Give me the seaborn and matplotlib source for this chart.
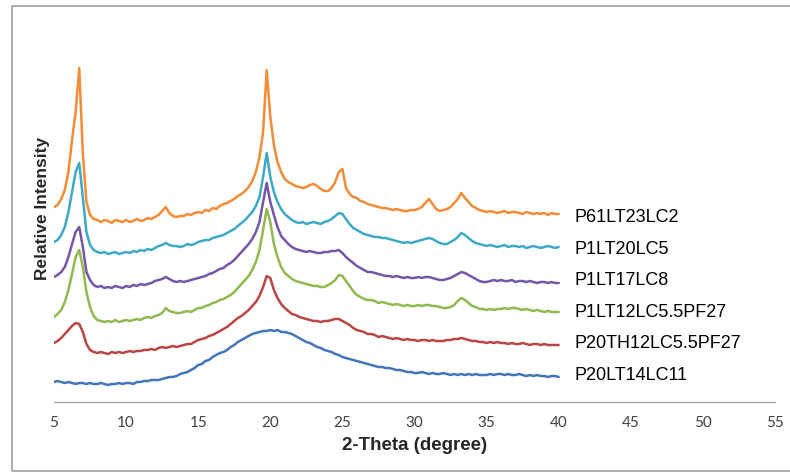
"""
XRD patterns of the six polymer samples, stacked, with names at the right.
"""
import matplotlib
matplotlib.use("Agg")

import numpy as np
import pandas as pd
import matplotlib.pyplot as plt
import seaborn as sns
from matplotlib.patches import Rectangle

# ── Data (intensity, arbitrary units) ─────────────────────────────────────────
# 2-theta sampled every 0.25 degree from 5 to 40
theta = np.linspace(5.0, 40.0, 141)

p61lt23lc2 = [
    195, 197, 203, 212, 230, 262, 290, 334, 248, 200, 187, 183, 182, 180, 182, 181, 179, 182, 181, 180,
    182, 180, 181, 183, 181, 182, 184, 183, 185, 187, 191, 195, 189, 186, 185, 186, 186, 188, 187, 189,
    190, 189, 192, 191, 194, 193, 196, 198, 199, 201, 203, 206, 208, 211, 215, 221, 230, 245, 270, 332,
    285, 257, 240, 230, 223, 220, 218, 216, 215, 214, 215, 217, 218, 216, 213, 211, 211, 214, 220, 230,
    233, 214, 208, 205, 204, 201, 200, 198, 197, 196, 195, 194, 194, 193, 192, 193, 192, 191, 191, 192,
    192, 193, 195, 199, 203, 198, 193, 191, 192, 193, 195, 199, 203, 209, 204, 200, 196, 194, 192, 191,
    190, 191, 190, 189, 190, 191, 189, 190, 190, 189, 188, 190, 189, 188, 189, 188, 189, 187, 189, 188,
    188,
]
p1lt20lc5 = [
    160, 162, 167, 175, 190, 210, 230, 239, 205, 170, 157, 152, 150, 149, 150, 148, 149, 150, 148, 149,
    150, 149, 151, 150, 152, 151, 153, 152, 154, 156, 157, 159, 157, 156, 156, 155, 156, 158, 157, 158,
    160, 161, 162, 162, 164, 165, 166, 167, 169, 171, 173, 176, 179, 182, 186, 190, 196, 205, 225, 249,
    225, 210, 200, 193, 188, 185, 182, 180, 179, 180, 178, 179, 180, 179, 178, 180, 181, 183, 186, 189,
    188, 183, 178, 174, 172, 170, 168, 167, 166, 165, 165, 164, 164, 163, 162, 161, 160, 159, 160, 159,
    160, 161, 162, 163, 164, 163, 161, 159, 158, 158, 160, 162, 165, 169, 167, 164, 161, 159, 158, 157,
    156, 157, 156, 155, 156, 157, 155, 156, 156, 155, 156, 154, 155, 156, 155, 154, 155, 156, 155, 154,
    155,
]
p1lt17lc8 = [
    125, 127, 130, 135, 145, 158, 170, 175, 155, 130, 122, 117, 115, 116, 114, 115, 114, 116, 115, 114,
    116, 115, 117, 116, 118, 117, 118, 119, 121, 122, 123, 125, 123, 121, 120, 121, 120, 121, 122, 123,
    124, 125, 126, 128, 129, 131, 133, 134, 137, 139, 142, 146, 150, 154, 158, 163, 170, 180, 200, 219,
    200, 187, 175, 166, 162, 158, 155, 153, 152, 151, 150, 151, 150, 149, 149, 150, 150, 151, 151, 152,
    149, 145, 142, 139, 136, 134, 132, 130, 130, 129, 128, 127, 126, 126, 125, 126, 125, 124, 125, 124,
    124, 125, 124, 125, 125, 124, 123, 122, 122, 123, 124, 126, 128, 130, 129, 127, 125, 123, 121, 120,
    120, 121, 122, 121, 122, 121, 121, 122, 120, 121, 121, 120, 121, 120, 119, 120, 120, 119, 120, 119,
    119,
]
p1lt12lc55pf27 = [
    85, 88, 92, 100, 112, 128, 145, 152, 135, 110, 95, 86, 82, 81, 80, 81, 80, 82, 80, 81,
    82, 81, 82, 83, 82, 84, 85, 84, 86, 87, 89, 94, 91, 90, 89, 89, 90, 91, 90, 92,
    94, 94, 96, 97, 99, 100, 102, 103, 105, 107, 110, 114, 118, 122, 126, 132, 140, 152, 172, 193,
    180, 158, 145, 135, 129, 126, 123, 121, 120, 119, 118, 117, 116, 116, 115, 115, 117, 119, 122, 127,
    126, 121, 116, 111, 107, 105, 103, 102, 102, 101, 99, 100, 99, 98, 97, 98, 97, 96, 97, 96,
    96, 97, 96, 97, 97, 96, 96, 95, 94, 94, 95, 97, 101, 104, 102, 99, 96, 95, 93, 93,
    92, 93, 92, 93, 93, 94, 93, 94, 94, 93, 92, 93, 92, 91, 92, 91, 90, 91, 90, 90,
    90,
]
p20th12lc55pf27 = [
    59, 61, 64, 68, 72, 76, 79, 78, 70, 58, 52, 50, 49, 50, 49, 48, 50, 49, 50, 49,
    50, 51, 50, 51, 51, 52, 52, 53, 52, 54, 55, 54, 55, 56, 55, 56, 57, 58, 58, 60,
    62, 63, 64, 66, 67, 69, 71, 73, 75, 78, 81, 84, 86, 89, 92, 96, 100, 106, 115, 126,
    124, 112, 104, 98, 94, 91, 88, 87, 85, 84, 83, 82, 81, 81, 80, 81, 81, 82, 83, 83,
    81, 79, 77, 74, 72, 71, 70, 68, 68, 67, 65, 66, 65, 64, 63, 64, 63, 62, 63, 62,
    62, 61, 62, 62, 61, 62, 61, 61, 61, 62, 62, 63, 63, 64, 63, 62, 61, 61, 60, 60,
    59, 60, 59, 60, 59, 59, 58, 59, 58, 58, 59, 58, 57, 58, 58, 57, 58, 57, 57, 57,
    57,
]
p20lt14lc11 = [
    20, 21, 20, 19, 20, 19, 18, 19, 19, 18, 19, 18, 18, 19, 18, 17, 18, 18, 19, 18,
    19, 19, 18, 20, 20, 21, 21, 22, 22, 22, 23, 24, 25, 25, 26, 28, 29, 30, 32, 34,
    37, 38, 41, 42, 45, 47, 49, 50, 52, 55, 57, 60, 62, 64, 66, 68, 69, 70, 71, 71,
    72, 71, 72, 70, 70, 69, 68, 66, 64, 62, 60, 59, 57, 55, 54, 52, 51, 50, 48, 47,
    45, 44, 43, 42, 41, 40, 39, 38, 37, 36, 35, 35, 34, 34, 33, 32, 32, 31, 30, 30,
    29, 29, 30, 29, 28, 29, 28, 28, 29, 28, 27, 28, 27, 28, 27, 28, 27, 28, 27, 27,
    27, 28, 27, 28, 28, 27, 28, 27, 27, 28, 27, 26, 27, 26, 27, 26, 26, 25, 26, 26,
    25,
]

sample_names = ["P61LT23LC2", "P1LT20LC5", "P1LT17LC8",
                "P1LT12LC5.5PF27", "P20TH12LC5.5PF27", "P20LT14LC11"]
sample_data = [p61lt23lc2, p1lt20lc5, p1lt17lc8,
               p1lt12lc55pf27, p20th12lc55pf27, p20lt14lc11]
x_ticks = [5, 10, 15, 20, 25, 30, 35, 40, 45, 50, 55]

# ── Style ─────────────────────────────────────────────────────────────────────
sns.set_theme(style="white")
plt.rcParams["font.family"] = ["Liberation Sans", "DejaVu Sans"]

COLORS = {
    "P61LT23LC2":       "#F28C36",
    "P1LT20LC5":        "#3FA8C4",
    "P1LT17LC8":        "#7656A6",
    "P1LT12LC5.5PF27":  "#92B850",
    "P20TH12LC5.5PF27": "#BA4643",
    "P20LT14LC11":      "#4375B8",
}

df = pd.concat(
    [pd.DataFrame({"theta": theta, "intensity": vals, "sample": name})
     for name, vals in zip(sample_names, sample_data)],
    ignore_index=True,
)

fig = plt.figure(figsize=(7.9, 4.73), dpi=100)
ax = fig.add_axes([54 / 790, 71 / 473, 721 / 790, 372 / 473])

# draw bottom series first so the upper ones sit on top
sns.lineplot(data=df, x="theta", y="intensity", hue="sample",
             hue_order=sample_names[::-1], palette=COLORS,
             estimator=None, sort=False, lw=1.8, legend=False, ax=ax)

# names stacked evenly beside the curve ends, starting at the lowest one
step = 31.4
base = sample_data[-1][-1] + 2
for k, name in enumerate(sample_names[::-1]):
    ax.annotate(name, xy=(theta[-1], base + k * step), xytext=(11.5, 0),
                textcoords="offset points", ha="left", va="center",
                fontsize=13, color="#000000")

ax.set_xlim(5, 55)
ax.set_ylim(0, 372)
ax.set_xticks(x_ticks)
ax.set_yticks([])
ax.tick_params(axis="x", length=0, pad=10, labelsize=11, labelcolor="#404040")
for lab in ax.get_xticklabels():
    lab.set_fontfamily(["Lato", "DejaVu Sans"])

for side in ("top", "right", "left"):
    ax.spines[side].set_visible(False)
ax.spines["bottom"].set_color("#A6A6A6")
ax.spines["bottom"].set_linewidth(1.0)

ax.set_xlabel("2-Theta (degree)", fontsize=13.5, fontweight="bold", labelpad=5)
ax.set_ylabel("Relative Intensity", fontsize=12.5, fontweight="bold")
ax.yaxis.set_label_coords(-4 / 721, 0.52)

# chart frame, its right edge falls outside the picture
fig.add_artist(Rectangle((12 / 790, 2 / 473), 790 / 790, 465 / 473,
                         transform=fig.transFigure, fill=False,
                         ec="#A0A0A0", lw=1.2))

fig.savefig("out.png", dpi=100)
plt.close(fig)
